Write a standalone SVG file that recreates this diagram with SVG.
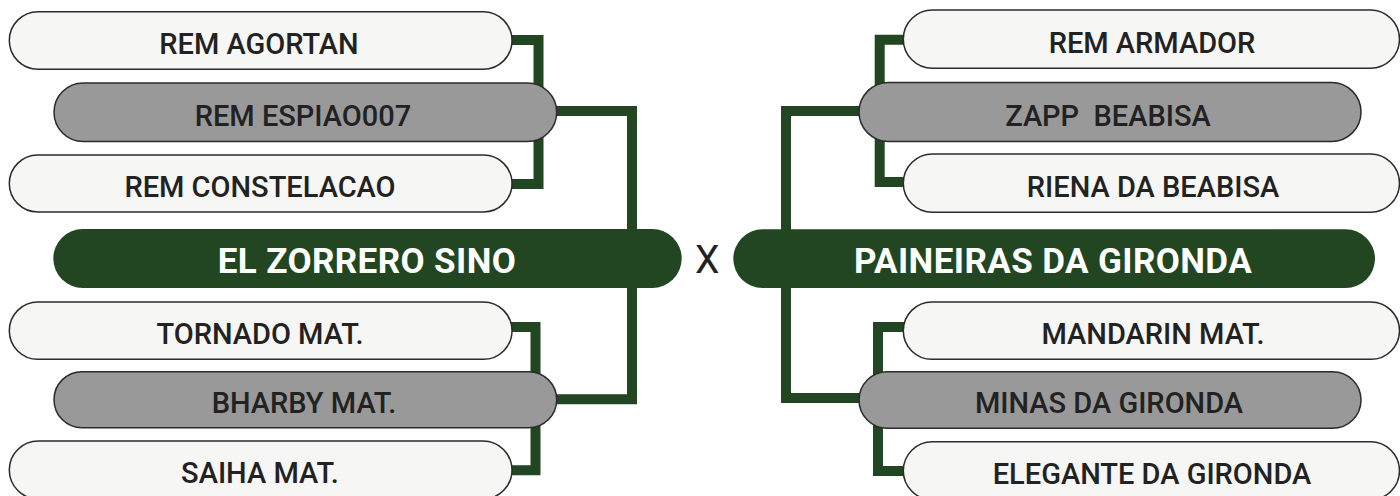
<svg xmlns="http://www.w3.org/2000/svg" width="1400" height="496" viewBox="0 0 1400 496">
<style>
  .w { fill: #f6f6f4; stroke: #2b2b2b; stroke-width: 1.5; }
  .g { fill: #999999; stroke: #2b2b2b; stroke-width: 1.5; }
  .d { fill: #214621; }
  .t { font-family: Roboto, "Liberation Sans", sans-serif; font-weight: 500; font-size: 29px; fill: #222222; text-anchor: middle; }
  .tb { font-family: Roboto, "Liberation Sans", sans-serif; font-weight: 700; font-size: 35px; letter-spacing: 0.4px; fill: #ffffff; text-anchor: middle; }
  .x { font-family: Roboto, "Liberation Sans", sans-serif; font-weight: 400; font-size: 39px; fill: #222222; text-anchor: middle; }
  .c { fill: none; stroke: #214621; stroke-width: 10; stroke-linejoin: miter; }
</style>
<rect width="1400" height="496" fill="#ffffff"/>
<g id="connectors">
  <path class="c" d="M 500 40 H 538.5 V 184 H 500"/>
  <path class="c" d="M 550 111 H 632 V 240"/>
  <path class="c" d="M 632 280 V 399.3 H 550"/>
  <path class="c" d="M 500 327 H 535.5 V 470.3 H 500"/>
  <path class="c" d="M 915 39.7 H 879.7 V 182 H 915"/>
  <path class="c" d="M 870 111 H 786 V 240"/>
  <path class="c" d="M 786 280 V 398 H 870"/>
  <path class="c" d="M 915 327 H 878 V 471 H 915"/>
</g>
<g id="rem-agortan">
  <rect class="w" x="9.3" y="11.7" width="502.7" height="57.6" rx="28.8"/>
  <text class="t" x="259" y="54">REM AGORTAN</text>
</g>
<g id="rem-espiao007">
  <rect class="g" x="54" y="83" width="502.7" height="58.5" rx="29.25"/>
  <text class="t" x="303" y="126">REM ESPIAO007</text>
</g>
<g id="rem-constelacao">
  <rect class="w" x="9.3" y="155" width="502.7" height="57" rx="28.5"/>
  <text class="t" x="260" y="197">REM CONSTELACAO</text>
</g>
<g id="el-zorrero-sino">
  <rect class="d" x="53.3" y="229" width="628.4" height="59" rx="29.5"/>
  <text class="tb" x="367" y="273">EL ZORRERO SINO</text>
</g>
<g id="tornado-mat">
  <rect class="w" x="9.3" y="302" width="502.7" height="57.3" rx="28.65"/>
  <text class="t" x="260" y="344">TORNADO MAT.</text>
</g>
<g id="bharby-mat">
  <rect class="g" x="54" y="371.7" width="502.7" height="56" rx="28"/>
  <text class="t" x="304" y="413">BHARBY MAT.</text>
</g>
<g id="saiha-mat">
  <rect class="w" x="9.3" y="441" width="502.7" height="58" rx="29"/>
  <text class="t" x="260" y="483">SAIHA MAT.</text>
</g>
<g id="versus">
  <text class="x" x="707.3" y="273">X</text>
</g>
<g id="rem-armador">
  <rect class="w" x="903.3" y="10" width="496.2" height="58.3" rx="29.15"/>
  <text class="t" x="1152" y="53">REM ARMADOR</text>
</g>
<g id="zapp-beabisa">
  <rect class="g" x="859" y="82.5" width="502" height="59" rx="29.5"/>
  <text class="t" x="1108" y="126" xml:space="preserve">ZAPP  BEABISA</text>
</g>
<g id="riena-da-beabisa">
  <rect class="w" x="903.3" y="154" width="496.2" height="58.3" rx="29.15"/>
  <text class="t" x="1153" y="197">RIENA DA BEABISA</text>
</g>
<g id="paineiras-da-gironda">
  <rect class="d" x="733.3" y="229.3" width="641.7" height="58.7" rx="29.35"/>
  <text class="tb" x="1053" y="273">PAINEIRAS DA GIRONDA</text>
</g>
<g id="mandarin-mat">
  <rect class="w" x="903.3" y="302" width="496.2" height="57.3" rx="28.65"/>
  <text class="t" x="1153" y="344">MANDARIN MAT.</text>
</g>
<g id="minas-da-gironda">
  <rect class="g" x="859" y="371.7" width="502" height="56.6" rx="28.3"/>
  <text class="t" x="1109" y="413">MINAS DA GIRONDA</text>
</g>
<g id="elegante-da-gironda">
  <rect class="w" x="903.3" y="441.7" width="496.2" height="58" rx="29"/>
  <text class="t" x="1152" y="484">ELEGANTE DA GIRONDA</text>
</g>
</svg>
